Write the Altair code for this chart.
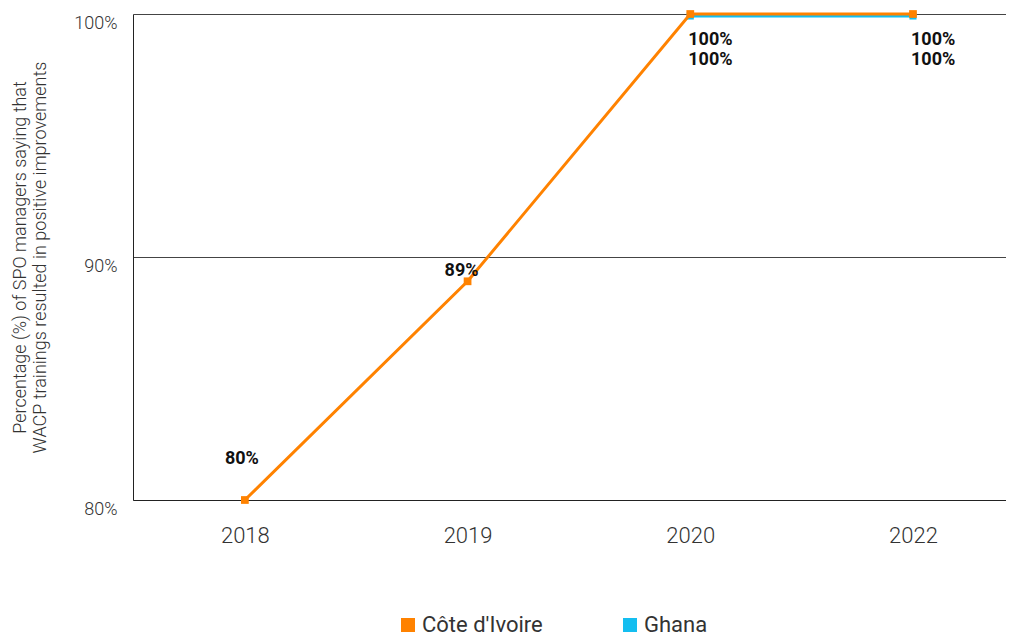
import altair as alt
import pandas as pd

years = ["2018", "2019", "2020", "2022"]
civ_values = [80, 89, 100, 100]
ghana_years = ["2020", "2022"]
ghana_values = [100, 100]
series_names = ["Côte d'Ivoire", "Ghana"]
colors = ["#FF8200", "#14BEF0"]

civ = pd.DataFrame({"year": years, "value": civ_values, "series": series_names[0]})
gh = pd.DataFrame({"year": ghana_years, "value": ghana_values, "series": series_names[1]})
civ["label"] = civ["value"].astype(int).astype(str) + "%"
gh["label"] = gh["value"].astype(int).astype(str) + "%"

FONT = "Roboto"

x_enc = alt.X(
    "year:N",
    sort=years,
    scale=alt.Scale(type="point", domain=years, padding=0.46, align=0.546),
    axis=alt.Axis(
        title=None, labelAngle=0, labelFontSize=22, labelColor="#333333",
        labelFont=FONT, labelFontWeight=300, labelPadding=25, ticks=False,
        domainColor="#222222", domainWidth=1, grid=False,
    ),
)
y_enc = alt.Y(
    "value:Q",
    scale=alt.Scale(domain=[80, 100], nice=False, zero=False),
    axis=alt.Axis(
        values=[80, 90, 100],
        labelExpr="datum.value + '%'",
        title=["Percentage (%) of SPO managers saying that",
               "WACP trainings resulted in positive improvements"],
        titleFontSize=18, titleFont=FONT, titleFontWeight=300, titleColor="#333333",
        titleLineHeight=20, titlePadding=24,
        labelFontSize=18, labelFont=FONT, labelFontWeight=300, labelColor="#333333",
        labelBaseline="top", labelPadding=16, ticks=False,
        gridColor="#444444", gridWidth=1, domainColor="#222222",
    ),
)

color_scale = alt.Scale(domain=series_names, range=colors)

gh_line = alt.Chart(gh).mark_line(strokeWidth=3, yOffset=2, point=alt.OverlayMarkDef(shape="square", size=50, filled=True, yOffset=2)).encode(
    x=x_enc, y=y_enc,
    color=alt.Color("series:N", scale=color_scale, legend=alt.Legend(
        title=None, orient="none", legendX=264, legendY=600, direction="horizontal",
        symbolType="square", symbolSize=196, symbolStrokeWidth=0, symbolOpacity=1,
        labelFontSize=22, labelFont=FONT, labelColor="#333333", columnPadding=76,
        labelOffset=3, padding=0,
    )),
)
civ_line = alt.Chart(civ).mark_line(strokeWidth=3, point=alt.OverlayMarkDef(shape="square", size=60, filled=True)).encode(
    x=x_enc, y=y_enc, color=alt.Color("series:N", scale=color_scale),
)

txt = dict(font=FONT, fontSize=18, fontWeight="bold", color="#111111")
lbl_2018 = alt.Chart(civ[civ.year == "2018"]).mark_text(dx=-3, dy=-41, **txt).encode(x=x_enc, y=y_enc, text="label:N")
lbl_2019 = alt.Chart(civ[civ.year == "2019"]).mark_text(dx=-6, dy=-10, **txt).encode(x=x_enc, y=y_enc, text="label:N")
lbl_civ_top = alt.Chart(civ[civ.value == 100]).mark_text(align="left", dx=-2, dy=26, **txt).encode(x=x_enc, y=y_enc, text="label:N")
lbl_gh = alt.Chart(gh).mark_text(align="left", dx=-2, dy=46, **txt).encode(x=x_enc, y=y_enc, text="label:N")

chart = alt.layer(gh_line, civ_line, lbl_2018, lbl_2019, lbl_civ_top, lbl_gh).properties(
    width=873, height=486,
    autosize=alt.AutoSizeParams(type="none"),
    padding={"left": 125, "top": 6, "right": 0, "bottom": 140},
).configure_view(stroke=None).configure_axis(gridOpacity=1)

chart.save("out.html", embed_options={"renderer": "svg", "actions": False})
